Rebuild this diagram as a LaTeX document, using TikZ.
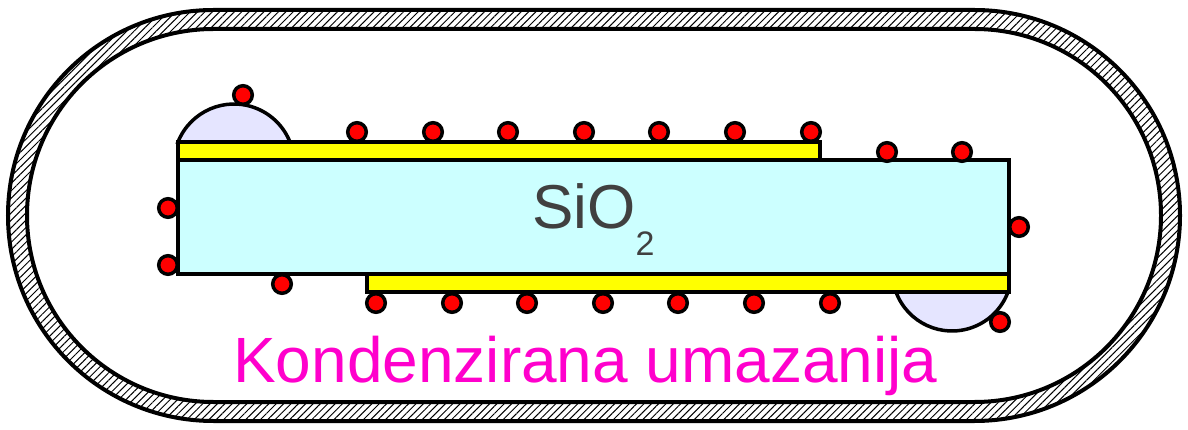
\documentclass[tikz,border=0pt]{standalone}
\usepackage{fontspec}
\setmainfont{Liberation Sans}
\usetikzlibrary{patterns.meta}
\definecolor{oxide}{HTML}{CCFFFF}
\definecolor{metal}{HTML}{FFFF00}
\definecolor{droplet}{HTML}{E5E5FF}
\definecolor{dirt}{HTML}{FF0000}
\definecolor{labelpink}{HTML}{FF00CC}
\definecolor{oxidetext}{HTML}{404040}
\tikzset{
  wall/.style={line width=4pt},
  layer/.style={draw=black, line width=3.5pt, line join=miter},
  blob/.style={draw=black, line width=3.5pt, fill=droplet},
  particle/.style={circle, draw=black, line width=3.5pt, fill=dirt,
                   inner sep=0pt, minimum size=18.6pt},
}
\begin{document}
\begin{tikzpicture}[x=1pt,y=1pt]
\useasboundingbox (0,0) rectangle (1188,-430);

% hatched double wall of the chamber
\fill[even odd rule, pattern={Lines[angle=45,distance=5.2pt,line width=1pt]}]
  [rounded corners=205.5pt] (8,-10) rectangle (1180,-421)
  [rounded corners=186.5pt] (27,-29) rectangle (1161,-402);
\draw[wall, rounded corners=205.5pt] (8,-10) rectangle (1180,-421);
\draw[wall, rounded corners=186.5pt] (27,-29) rectangle (1161,-402);

% condensed droplets
\draw[blob] (178,-142) arc[start angle=158.3, end angle=21.7, radius=60.26] -- cycle;
\draw[blob] (896,-292) arc[start angle=200.3, end angle=339.7, radius=59.7] -- cycle;

% oxide plate with metal layers
\draw[layer, fill=oxide] (178,-160) rectangle (1009,-274);
\draw[layer, fill=metal] (178,-142) rectangle (820,-160);
\draw[layer, fill=metal] (367,-274) rectangle (1009,-292);

\node[anchor=base west, inner sep=0pt, text=oxidetext,
      font=\fontsize{62}{70}\selectfont] (oxlabel) at (532,-229)
  {SiO\raisebox{-27pt}{\fontsize{34}{36}\selectfont 2}};

% contaminant particles
\node[particle] (d0) at (243,-95) {};
\foreach \x [count=\i] in {357,433,508,584,659,735,811}
  \node[particle] (t\i) at (\x,-132) {};
\node[particle] (s1) at (887,-152) {};
\node[particle] (s2) at (962,-152) {};
\node[particle] (r1) at (1019,-227) {};
\node[particle] (l1) at (168,-208) {};
\node[particle] (l2) at (168,-265) {};
\node[particle] (u1) at (282,-284) {};
\foreach \x [count=\i] in {376,452,527,603,678,754,830}
  \node[particle] (b\i) at (\x,-303) {};
\node[particle] (r2) at (1000,-322) {};

\node[anchor=base, inner sep=0pt, text=labelpink,
      font=\fontsize{64}{70}\selectfont] (caption) at (585.5,-382)
  {Kondenzirana umazanija};
\end{tikzpicture}
\end{document}
